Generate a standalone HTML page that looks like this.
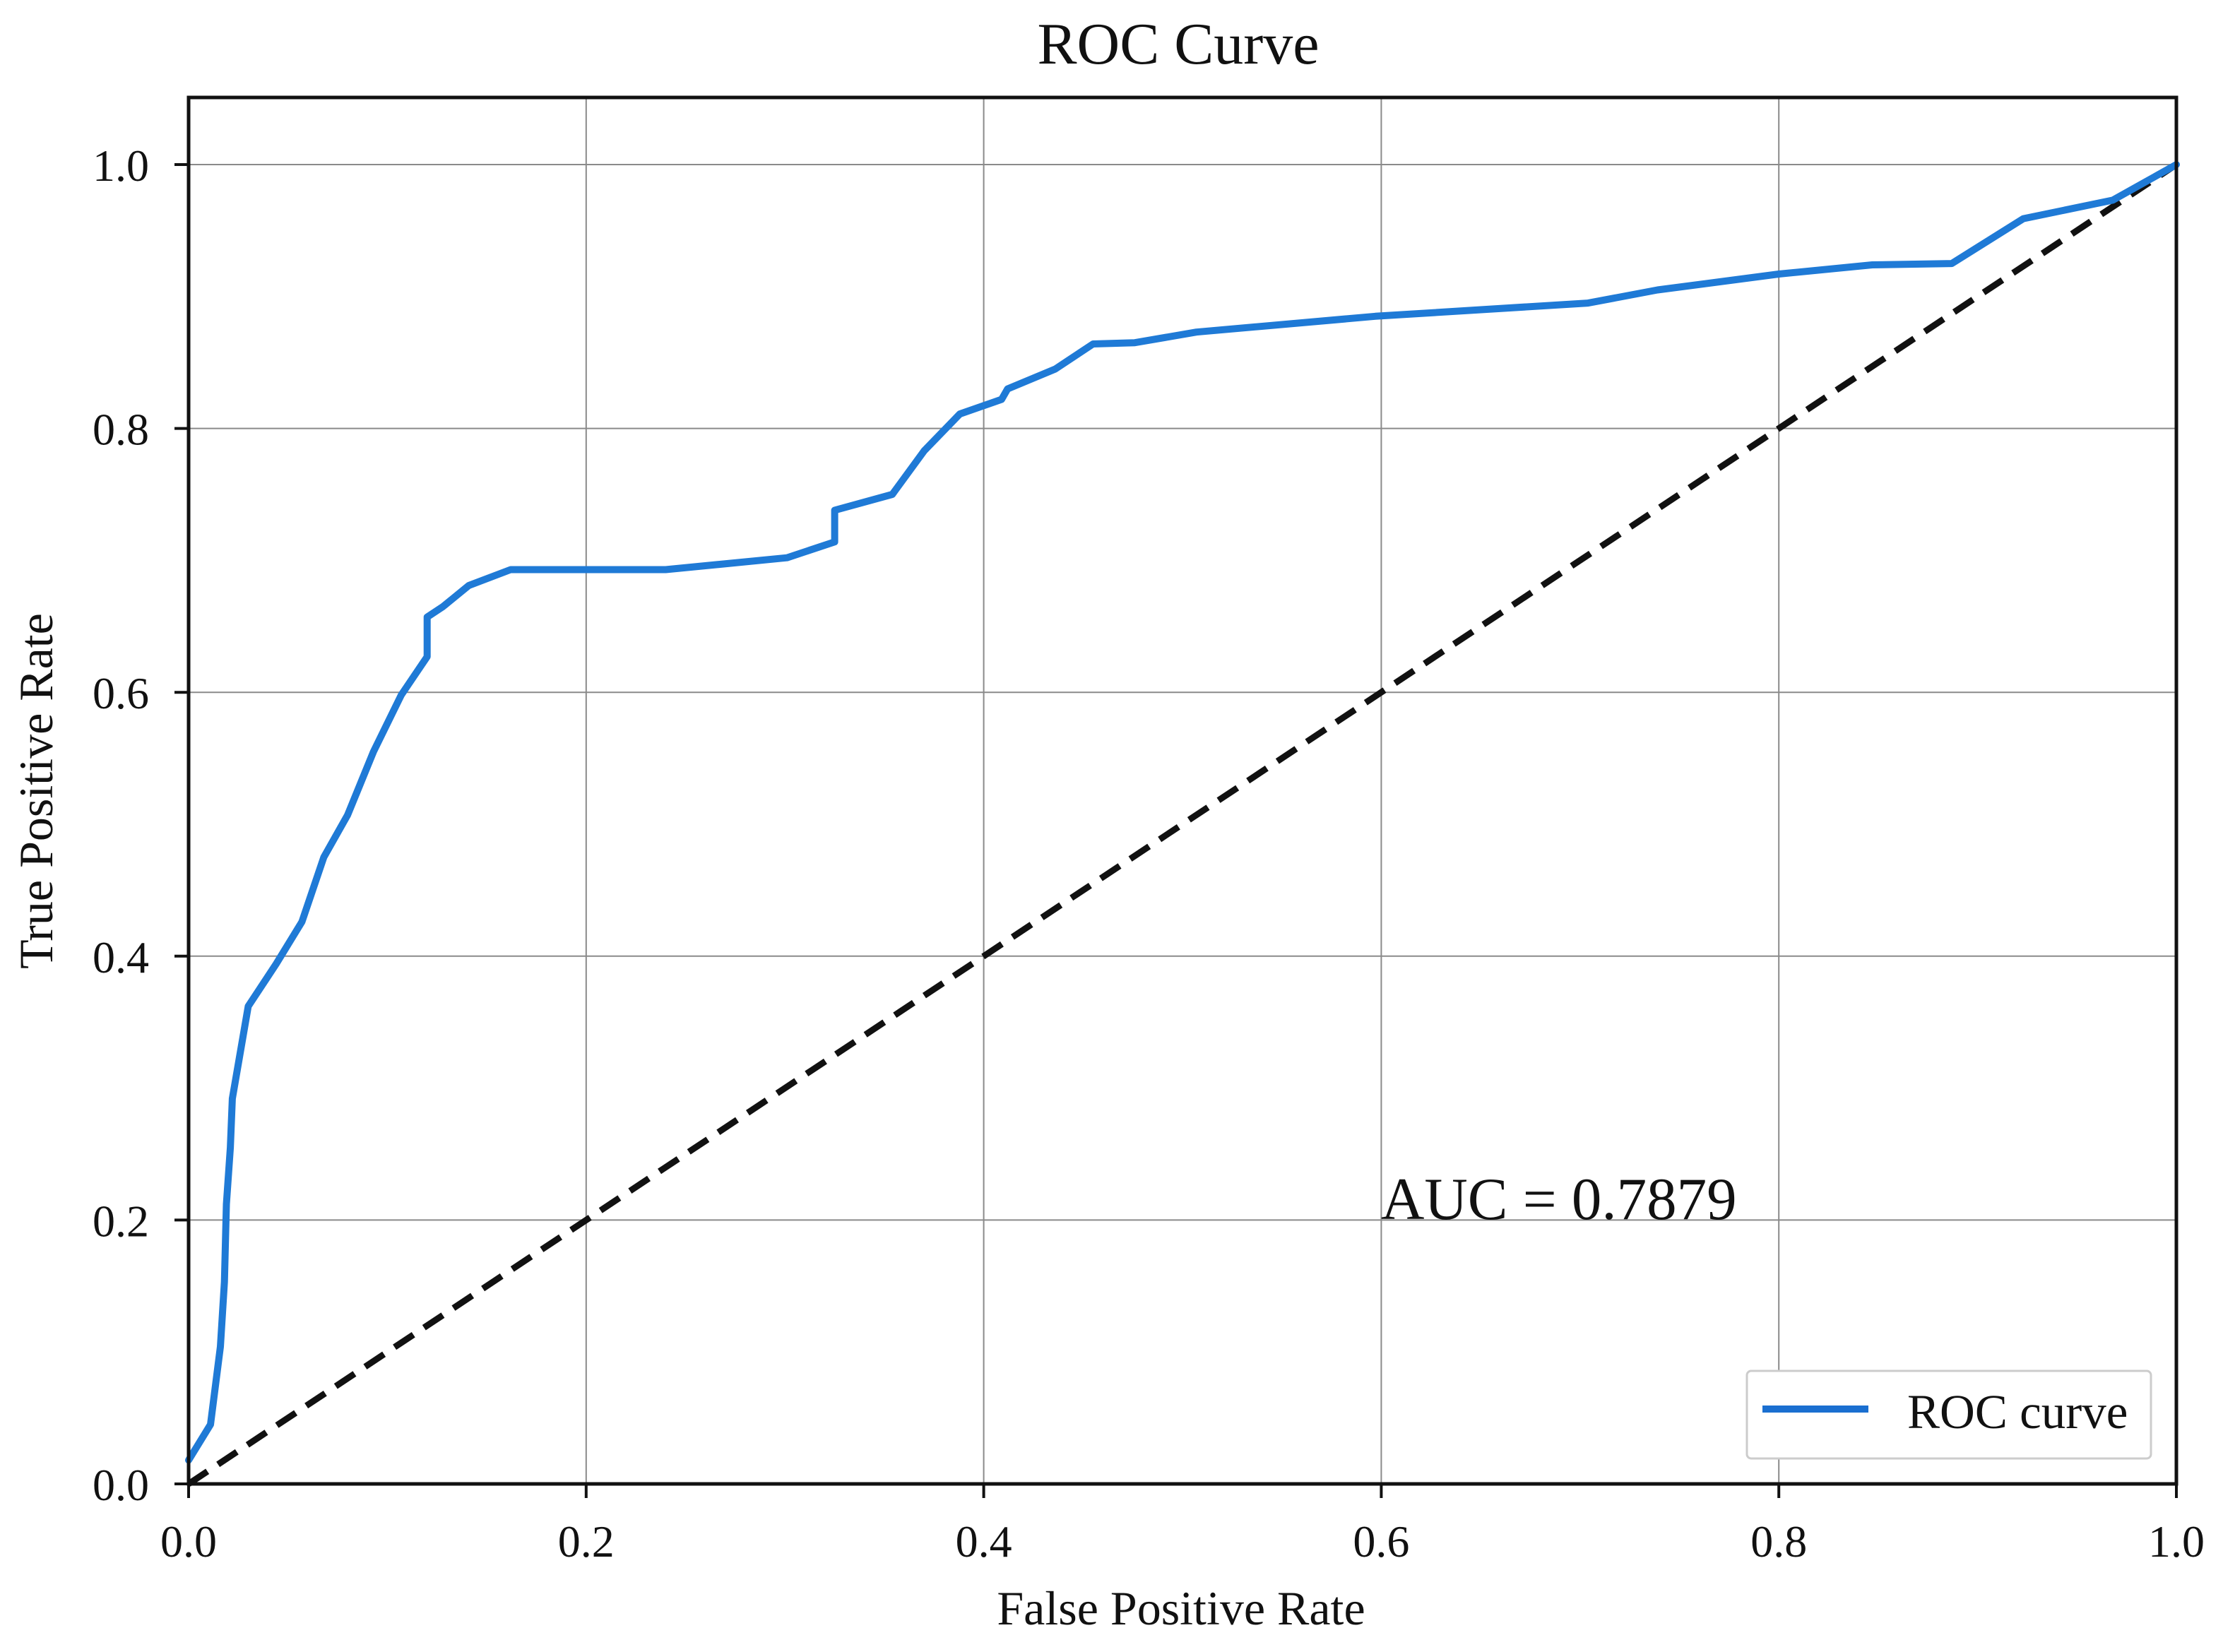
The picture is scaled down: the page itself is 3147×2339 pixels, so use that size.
<!DOCTYPE html>
<html><head><meta charset="utf-8"><style>
html,body{margin:0;padding:0;background:#fff;}
svg{display:block;font-family:"Liberation Serif",serif;}
</style></head><body>
<svg id="chart" width="3147" height="2339" viewBox="0 0 3147 2339" xmlns="http://www.w3.org/2000/svg">
<rect width="3147" height="2339" fill="#fff"/>
<g id="grid"></g>
<g id="diag"></g>
<g id="curve"></g>
<g id="axes"></g>
<text x="1668" y="90" font-size="84" text-anchor="middle" fill="#111">ROC Curve</text>
<text x="1672" y="2300" font-size="68" text-anchor="middle" fill="#111">False Positive Rate</text>
<text x="0" y="0" font-size="68" text-anchor="middle" fill="#111" transform="translate(74,1120) rotate(-90)">True Positive Rate</text>
<text x="1955" y="1726" font-size="85" fill="#111">AUC = 0.7879</text>
<g>
<rect x="2473" y="1941" width="572" height="124" rx="6" fill="#fff" stroke="#ccc" stroke-width="3"/>
<line x1="2495" y1="1995" x2="2645" y2="1995" stroke="#1a6fd0" stroke-width="10"/>
<text x="2700" y="2022" font-size="69" fill="#111">ROC curve</text>
</g>
</svg>
<script>
const xTicks = [0, 0.2, 0.4, 0.6, 0.8, 1.0];
const yTicks = [0, 0.2, 0.4, 0.6, 0.8, 1.0];
const tickLabels = ["0.0", "0.2", "0.4", "0.6", "0.8", "1.0"];
const fpr = [0,0.011,0.016,0.018,0.019,0.021,0.022,0.030,0.044,0.057,0.068,0.080,0.093,0.107,0.120,0.120,0.128,0.141,0.162,0.240,0.301,0.325,0.325,0.354,0.370,0.388,0.409,0.412,0.436,0.455,0.476,0.507,0.597,0.704,0.739,0.800,0.847,0.887,0.923,0.968,1.0];
const tpr = [0.018,0.045,0.104,0.153,0.212,0.255,0.292,0.362,0.394,0.426,0.475,0.507,0.555,0.598,0.627,0.657,0.665,0.681,0.693,0.693,0.702,0.714,0.738,0.750,0.783,0.811,0.822,0.830,0.845,0.864,0.865,0.873,0.885,0.895,0.905,0.917,0.924,0.925,0.959,0.973,1.0];
const diagX = [0, 1];
const diagY = [0, 1];

const NS = "http://www.w3.org/2000/svg";
const X0 = 267, X1 = 3081, Y0 = 2101, Y1 = 233, TOP = 138;
const sx = v => X0 + v * (X1 - X0);
const sy = v => Y0 - v * (Y0 - Y1);
function mk(tag, attrs, parent) {
  const e = document.createElementNS(NS, tag);
  for (const k in attrs) e.setAttribute(k, attrs[k]);
  parent.appendChild(e);
  return e;
}
const grid = document.getElementById('grid');
const axes = document.getElementById('axes');
xTicks.forEach((v, i) => {
  const g = mk('line', {x1: sx(v), x2: sx(v), y1: TOP, y2: Y0, stroke: '#8a8a8a', 'stroke-width': 2}, grid);
  
  
  const t = mk('line', {x1: sx(v), x2: sx(v), y1: Y0, y2: Y0 + 20, stroke: '#111', 'stroke-width': 4}, axes);
  
  
  const l = mk('text', {x: sx(v), y: 2204, 'font-size': 64, 'text-anchor': 'middle', fill: '#111'}, axes);
  l.textContent = tickLabels[i];
  
  
});
yTicks.forEach((v, i) => {
  const g = mk('line', {x1: X0, x2: X1, y1: sy(v), y2: sy(v), stroke: '#8a8a8a', 'stroke-width': 2}, grid);
  
  
  const t = mk('line', {x1: X0 - 20, x2: X0, y1: sy(v), y2: sy(v), stroke: '#111', 'stroke-width': 4}, axes);
  
  
  const l = mk('text', {x: 211, y: sy(v) + 23, 'font-size': 64, 'text-anchor': 'end', fill: '#111'}, axes);
  l.textContent = tickLabels[i];
  
  
});
const frame = mk('rect', {x: X0, y: TOP, width: X1 - X0, height: Y0 - TOP, fill: 'none', stroke: '#111', 'stroke-width': 5}, axes);



const dl = mk('line', {x1: sx(diagX[0]), y1: sy(diagY[0]), x2: sx(diagX[1]), y2: sy(diagY[1]), stroke: '#111', 'stroke-width': 9, 'stroke-dasharray': '32 18'}, document.getElementById('diag'));



const pts = fpr.map((v, i) => sx(v).toFixed(1) + ',' + sy(tpr[i]).toFixed(1)).join(' ');
const c = mk('polyline', {points: pts, fill: 'none', stroke: '#1f7ad6', 'stroke-width': 10, 'stroke-linejoin': 'round', 'stroke-linecap': 'round'}, document.getElementById('curve'));


</script>
</body></html>
